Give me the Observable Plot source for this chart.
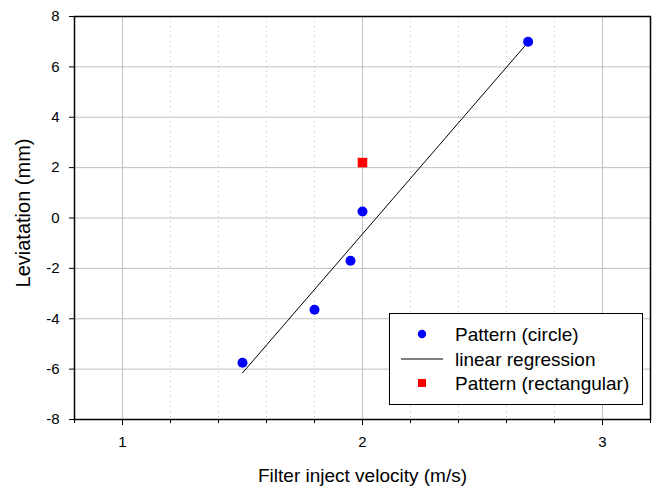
<!DOCTYPE html>
<html>
<head>
<meta charset="utf-8">
<script src="https://cdn.jsdelivr.net/npm/d3@7"></script>
<script src="https://cdn.jsdelivr.net/npm/@observablehq/plot@0.6"></script>
<style>
  body { margin: 0; background: #fff; }
  #wrap { position: relative; width: 667px; height: 499px; }
  #legend { position: absolute; left: 389px; top: 313px; width: 252px; height: 90px;
    border: 1px solid #000; background: #fff; }
  #legend text { font-family: "Liberation Sans", Arial, sans-serif; font-size: 19px; fill: #000; }
</style>
</head>
<body>
<div id="wrap"></div>
<script>
// Data
const circleX = [1.5, 1.8, 1.95, 2.0, 2.69];
const circleY = [-5.75, -3.64, -1.70, 0.26, 7.0];
const rectX = [2.0];
const rectY = [2.2];
const xMajorTicks = [1, 2, 3];
const xMinorTicks = [0.8, 1.2, 1.4, 1.6, 1.8, 2.2, 2.4, 2.6, 2.8, 3.2];
const xMinorGrid = [1.2, 1.4, 1.6, 1.8, 2.2, 2.4, 2.6, 2.8];
const yTicks = [-8, -6, -4, -2, 0, 2, 4, 6, 8];
const legendLabels = ["Pattern (circle)", "linear regression", "Pattern (rectangular)"];
const xLabel = "Filter inject velocity (m/s)";
const yLabel = "Leviatation (mm)";

const circles = circleX.map((x, i) => ({x, y: circleY[i]}));
const rects = rectX.map((x, i) => ({x, y: rectY[i]}));

const font = "'Liberation Sans', Arial, sans-serif";
const fmt = d => String(d); // plain hyphen-minus like the reference

const chart = Plot.plot({
  width: 667,
  height: 499,
  marginLeft: 74,
  marginRight: 17,
  marginTop: 16,
  marginBottom: 80,
  style: {fontFamily: font, fontSize: "14px", color: "#000", background: "#fff"},
  x: {domain: [0.8, 3.2]},
  y: {domain: [-8, 8]},
  marks: [
    Plot.ruleX(xMinorGrid, {stroke: "#c0c0c0", strokeDasharray: "1,4"}),
    Plot.ruleX(xMajorTicks, {stroke: "#c0c0c0"}),
    Plot.ruleY(yTicks, {stroke: "#c0c0c0"}),
    Plot.axisX({ticks: xMinorTicks, tickSize: 4, tickFormat: () => "", label: null}),
    Plot.axisX({ticks: xMajorTicks, tickSize: 6, tickPadding: 11, tickFormat: fmt, label: null, fontSize: 15}),
    Plot.axisY({ticks: yTicks, tickSize: 5, tickPadding: 10, tickFormat: fmt, label: null, fontSize: 15}),
    Plot.frame({stroke: "#000", strokeWidth: 1.5}),
    Plot.linearRegressionY(circles, {x: "x", y: "y", ci: 0, stroke: "#000", strokeWidth: 1}),
    Plot.dot(circles, {x: "x", y: "y", r: 5, fill: "#0000ff", stroke: "none"}),
    Plot.dot(rects, {x: "x", y: "y", symbol: "square", r: 5.4, fill: "#ff0000", stroke: "none"}),
    Plot.text([xLabel], {text: d => d, frameAnchor: "bottom", textAnchor: "middle", dy: 62, fontSize: 19, fill: "#000"}),
    Plot.text([yLabel], {text: d => d, frameAnchor: "left", textAnchor: "middle", rotate: -90, dx: -51, dy: -5, fontSize: 20, fill: "#000"})
  ]
});
document.getElementById("wrap").appendChild(chart);

// Legend (HTML overlay with inline SVG symbols)
const legend = d3.select("#wrap").append("div").attr("id", "legend");
const lsvg = legend.append("svg").attr("width", 252).attr("height", 90);
const rowY = [20, 45, 69];
lsvg.append("circle").attr("cx", 32).attr("cy", rowY[0]).attr("r", 4.2).attr("fill", "#0000ff");
lsvg.append("line").attr("x1", 11).attr("x2", 53).attr("y1", rowY[1]).attr("y2", rowY[1]).attr("stroke", "#000");
lsvg.append("rect").attr("x", 28).attr("y", rowY[2] - 4).attr("width", 8).attr("height", 8).attr("fill", "#ff0000");
legendLabels.forEach((t, i) => {
  lsvg.append("text").attr("x", 65).attr("y", rowY[i]).attr("dy", "0.36em").text(t);
});
</script>
</body>
</html>
